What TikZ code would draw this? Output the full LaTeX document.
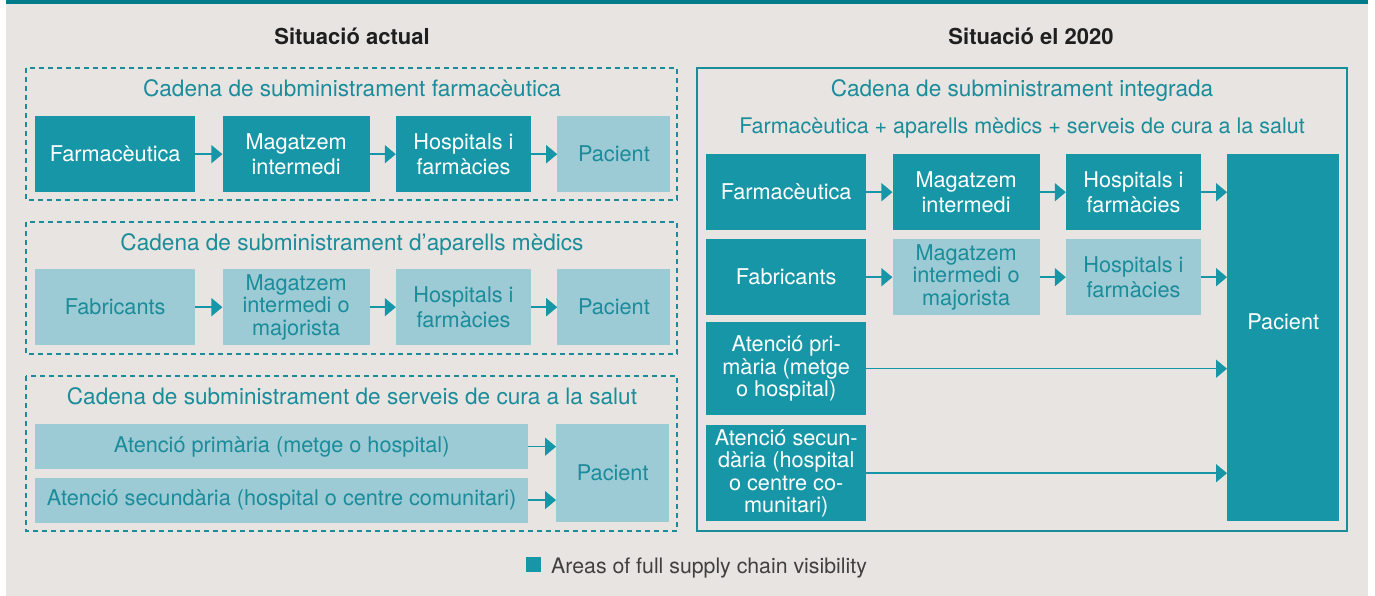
\documentclass[tikz,border=0pt]{standalone}
\usepackage{fontspec}
\setmainfont{TeX Gyre Heros}
\usetikzlibrary{positioning,arrows.meta}
\definecolor{tealdark}{HTML}{1696A6}
\definecolor{teallight}{HTML}{9CCAD5}
\definecolor{tealtext}{HTML}{1A8C9A}
\definecolor{tealbar}{HTML}{007B8B}
\definecolor{bggray}{HTML}{E7E4E1}

\begin{document}
\begin{tikzpicture}[x=1pt, y=-1pt,
  txt/.style={font=\fontsize{21.7}{25}\selectfont, align=center, inner sep=0pt},
  full/.style={txt, fill=tealdark, text=white, minimum height=76pt},
  part/.style={txt, fill=teallight, text=tealtext, minimum height=76pt},
  tight/.style={font=\fontsize{21.7}{22.5}\selectfont},
  title/.style={txt, font=\fontsize{22.6}{26}\selectfont, text=tealtext, anchor=base},
  head/.style={font=\fontsize{22}{25}\selectfont\bfseries, text=black!88, inner sep=0pt, anchor=base},
  chain/.style={draw=tealtext, line width=1.3pt},
  link/.style={-{Triangle[length=11pt,width=18pt]}, draw=tealdark, line width=1.5pt}]
	\useasboundingbox (0,0) rectangle (1375,596);
	\fill[white] (0,0) rectangle (1375,596);
	\fill[bggray] (6,0) rectangle (1368,596);
	\fill[tealbar] (6,0) rectangle (1368,4);
	\node[head] (lhead) at (352,45) {Situació actual};
	\node[head] (rhead) at (1031,45) {Situació el 2020};
	\draw[chain, dash pattern=on 5pt off 4pt] (26,68) rectangle (677,200);
	\draw[chain, dash pattern=on 5pt off 4pt] (26,222) rectangle (677,354);
	\draw[chain, dash pattern=on 5pt off 4pt] (26,376) rectangle (677,531);
	\draw[chain] (697,68) rectangle (1347,531);
	\node[title] (lt1) at (352,97) {Cadena de subministrament farmacèutica};
	\node[title] (lt2) at (352,250) {Cadena de subministrament d’aparells mèdics};
	\node[title] (lt3) at (352,404) {Cadena de subministrament de serveis de cura a la salut};
	\node[title] (rt1) at (1022,97) {Cadena de subministrament integrada};
	\node[title, font=\fontsize{21.5}{25}\selectfont] (rt2) at (1022,134) {Farmacèutica + aparells mèdics + serveis de cura a la salut};
	\node[full, minimum width=160pt, anchor=north west] (lf1) at (35,116) {Farmacèutica};
	\node[full, minimum width=147pt] (lf2) [right=27pt of lf1] {Magatzem\\intermedi};
	\node[full, minimum width=135pt] (lf3) [right=26pt of lf2] {Hospitals i\\farmàcies};
	\node[part, minimum width=113pt] (lf4) [right=26pt of lf3] {Pacient};
	\node[part, minimum width=160pt, anchor=north west] (la1) at (35,269) {Fabricants};
	\node[part, tight, minimum width=147pt] (la2) [right=27pt of la1] {Magatzem\\intermedi o\\majorista};
	\node[part, minimum width=135pt] (la3) [right=26pt of la2] {Hospitals i\\farmàcies};
	\node[part, minimum width=113pt] (la4) [right=26pt of la3] {Pacient};
	\node[part, minimum width=493pt, minimum height=45pt, anchor=north west] (ls1) at (35,424) {Atenció primària (metge o hospital)};
	\node[part, minimum width=493pt, minimum height=45pt] (ls2) [below=8pt of ls1] {Atenció secundària (hospital o centre comunitari)};
	\node[part, minimum width=113pt, minimum height=98pt, anchor=north west] (ls3) at (556,424) {Pacient};
	\path (lf1) edge[link] (lf2);
	\path (lf2) edge[link] (lf3);
	\path (lf3) edge[link] (lf4);
	\path (la1) edge[link] (la2);
	\path (la2) edge[link] (la3);
	\path (la3) edge[link] (la4);
	\path (ls1.east) edge[link] (ls1.east -| ls3.west);
	\path (ls2.east) edge[link] (ls2.east -| ls3.west);
	\node[full, minimum width=112pt, minimum height=367pt, text depth=33pt, anchor=north west] (rp) at (1227,154) {Pacient};
	\node[full, minimum width=160pt, anchor=north west] (rf1) at (706,154) {Farmacèutica};
	\node[full, minimum width=147pt] (rf2) [right=26pt of rf1] {Magatzem\\intermedi};
	\node[full, minimum width=135pt] (rf3) [right=26pt of rf2] {Hospitals i\\farmàcies};
	\node[full, minimum width=160pt, anchor=north west] (ra1) at (706,239) {Fabricants};
	\node[part, tight, minimum width=147pt] (ra2) [right=26pt of ra1] {Magatzem\\intermedi o\\majorista};
	\node[part, minimum width=135pt] (ra3) [right=26pt of ra2] {Hospitals i\\farmàcies};
	\node[full, tight, minimum width=160pt, minimum height=93pt, anchor=north west] (rs1) at (706,322) {Atenció pri-\\mària (metge\\o hospital)};
	\node[full, tight, minimum width=160pt, minimum height=96pt, anchor=north west] (rs2) at (706,425) {Atenció secun-\\dària (hospital\\o centre co-\\munitari)};
	\path (rf1) edge[link] (rf2);
	\path (rf2) edge[link] (rf3);
	\path (rf3.east) edge[link] (rf3.east -| rp.west);
	\path (ra1) edge[link] (ra2);
	\path (ra2) edge[link] (ra3);
	\path (ra3.east) edge[link] (ra3.east -| rp.west);
	\path (rs1.east) edge[link] (rs1.east -| rp.west);
	\path (rs2.east) edge[link] (rs2.east -| rp.west);
	\node[fill=tealdark, minimum size=15pt, inner sep=0pt] (key) at (533,564) {};
	\node[txt, font=\fontsize{21.3}{25}\selectfont, text=black!75, anchor=base west] (keytext) at (551,573) {Areas of full supply chain visibility};
\end{tikzpicture}
\end{document}
